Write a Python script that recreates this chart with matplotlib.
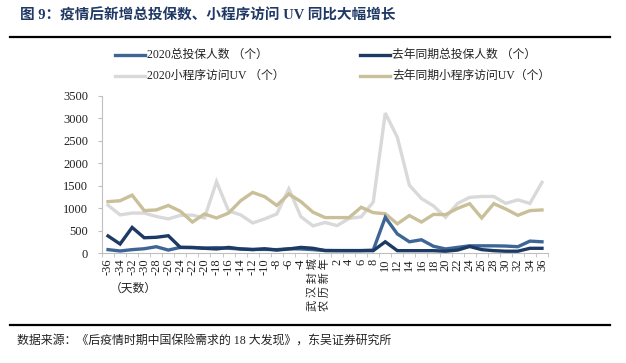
import matplotlib
matplotlib.use("Agg")
import matplotlib.pyplot as plt
from matplotlib.lines import Line2D
import numpy as np

plt.rcParams['font.family'] = ['Liberation Serif', 'Noto Sans CJK SC', 'DejaVu Sans']

days = [str(d) for d in range(-36, -2, 2)] + ["武汉封城", "农历新年"] + [str(d) for d in range(2, 37, 2)]

total_2020 = [75, 45, 75, 95, 140, 65, 125, 125, 110, 120, 105, 90, 80, 80, 75, 95, 90, 75, 55, 55, 55, 55,
              65, 795, 425, 250, 295, 150, 90, 125, 160, 160, 160, 155, 140, 265, 250]
total_last = [380, 200, 570, 340, 350, 385, 125, 120, 105, 90, 125, 90, 75, 95, 65, 90, 125, 105, 55, 52, 52, 52,
              52, 250, 52, 52, 52, 52, 40, 65, 145, 75, 52, 40, 40, 105, 105]
uv_2020 = [1065, 850, 890, 890, 815, 760, 840, 845, 780, 1590, 940, 850, 670, 760, 870, 1430, 810,
           605, 680, 610, 770, 805, 1135, 3120, 2580, 1510, 1215, 1050, 795, 1105, 1240, 1260, 1260, 1105, 1185, 1105, 1575]
uv_last = [1145, 1165, 1290, 945, 960, 1060, 930, 690, 870, 780, 890, 1165, 1350, 1255, 1060, 1315, 1145,
           910, 790, 790, 790, 1020, 900, 875, 650, 835, 690, 860, 855, 995, 1100, 780, 1100, 980, 840, 945, 960]

names = ["2020总投保人数 （个）", "去年同期总投保人数 （个）", "2020小程序访问UV （个）", "去年同期小程序访问UV（个）"]
colors = ["#3d6697", "#1c3a63", "#d9d9d9", "#c9bf98"]

fig = plt.figure(figsize=(6.26, 3.63), dpi=100)
W, H = 626, 363

# Title and rules
fig.text(20 / W, 1 - 16 / H, "图 9：疫情后新增总投保数、小程序访问 UV 同比大幅增长",
         fontsize=10.5, fontweight='bold', color="#1f3864", va='center', ha='left')
fig.add_artist(Line2D([10 / W, 610 / W], [1 - 37 / H, 1 - 37 / H], color='black', lw=1.6))
fig.add_artist(Line2D([10 / W, 610 / W], [1 - 325 / H, 1 - 325 / H], color='black', lw=1.6))
fig.text(17 / W, 1 - 341 / H, "数据来源：《后疫情时期中国保险需求的 18 大发现》，东吴证券研究所",
         fontsize=8.6, color="#222222", va='center', ha='left')

ax = fig.add_axes([102 / W, 1 - 253 / H, (548 - 102) / W, (253 - 96) / H])
x = np.arange(len(days))
z = [3, 4, 1, 2]
for vals, c, zz in zip([total_2020, total_last, uv_2020, uv_last], colors, z):
    ax.plot(x, vals, color=c, lw=2.4, zorder=zz, solid_joinstyle='miter')

ax.set_xlim(-0.45, len(days) - 1 + 0.45)
ax.set_ylim(0, 3500)
ax.set_yticks(range(0, 3501, 500))
ax.tick_params(axis='y', labelsize=9, length=3, color='#bfbfbf', pad=7, labelcolor='#222222')
ax.set_xticks(x)
shown = [d if d.lstrip('-').isdigit() else " ".join(d) for d in days]
ax.set_xticklabels(shown, rotation=90, fontsize=9, color='#222222')
for lbl in ax.get_xticklabels():
    if not lbl.get_text().lstrip('-').isdigit():
        lbl.set_fontsize(8)
ax.tick_params(axis='x', length=0, pad=4)
ax.set_xticks(np.arange(-0.5, len(days), 1), minor=True)
ax.tick_params(axis='x', which='minor', length=3, color='#bfbfbf')
for s in ['top', 'right']:
    ax.spines[s].set_visible(False)
ax.spines['left'].set_color('#bfbfbf')
ax.spines['bottom'].set_color('#bfbfbf')
ax.patch.set_alpha(0)

fig.text(110 / W, 1 - 289 / H, "（天数）", fontsize=8.5, color='#222222', va='center', ha='left')

# Legend
leg_pos = [(115, 55), (360, 55), (115, 76), (360, 76)]
for (lx, ly), c, n in zip(leg_pos, colors, names):
    fig.add_artist(Line2D([lx / W, (lx + 30) / W], [1 - ly / H, 1 - ly / H], color=c, lw=2.4))
    fig.text((lx + 32) / W, 1 - ly / H, n, fontsize=8.5, color='#222222', va='center', ha='left')

fig.savefig("out.png", dpi=100)
